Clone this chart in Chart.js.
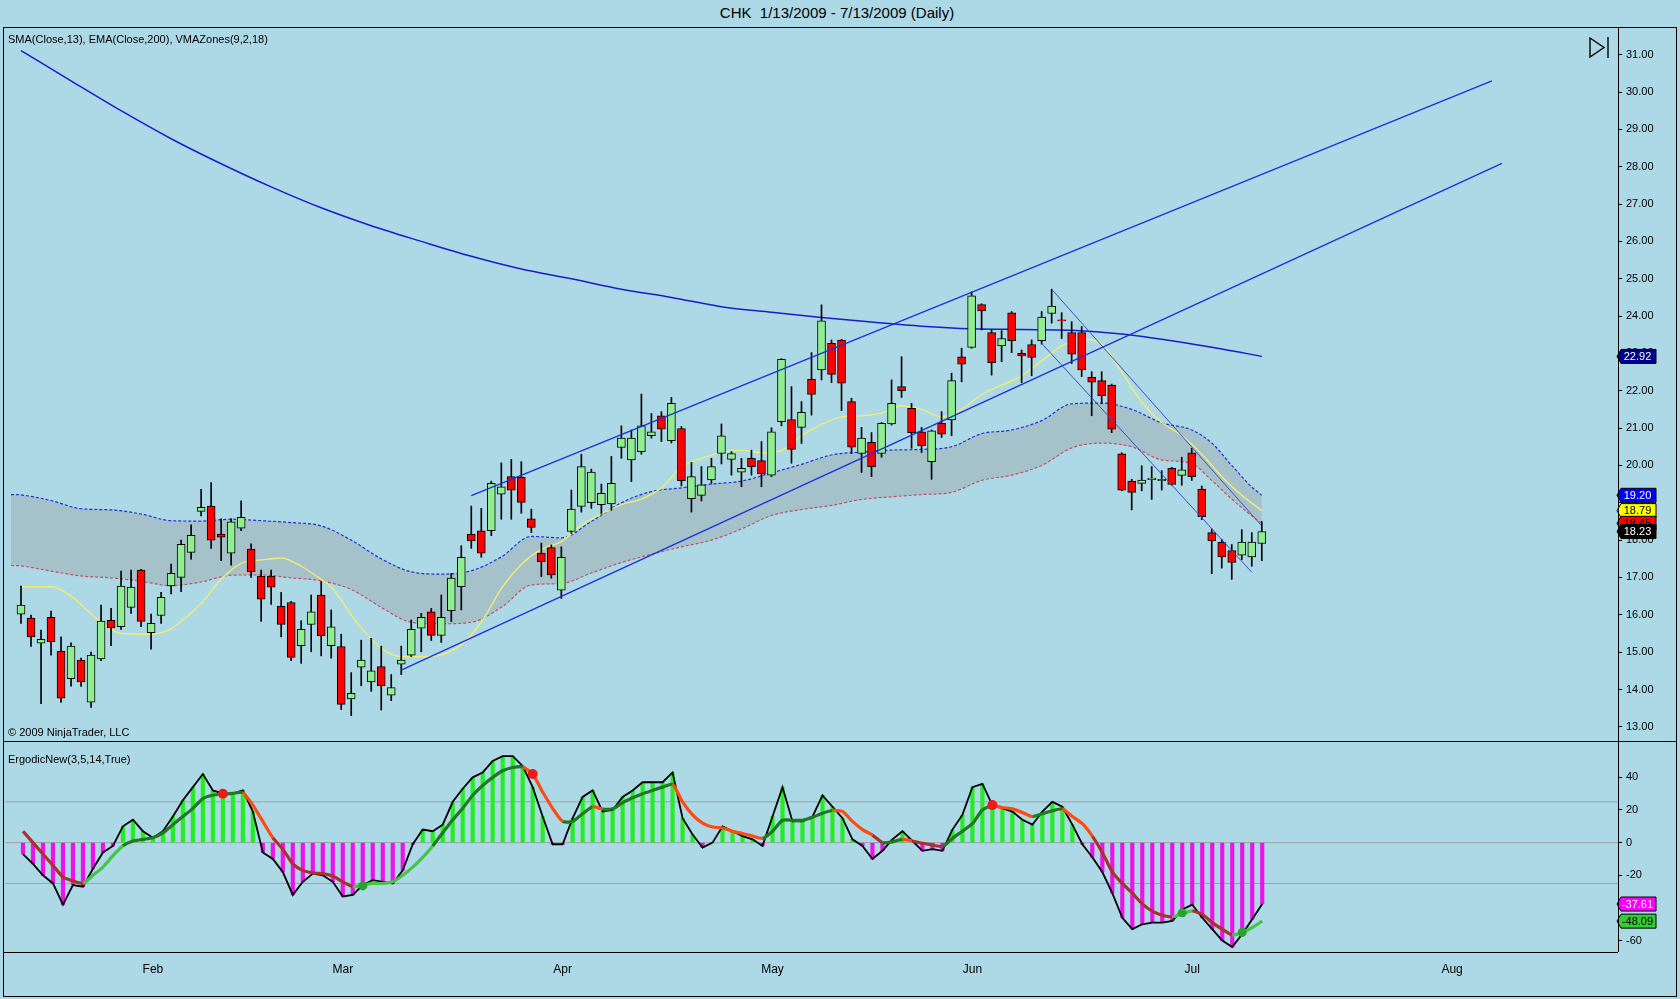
<!DOCTYPE html>
<html>
<head>
<meta charset="utf-8">
<title>CHK Daily</title>
<script src="https://cdn.jsdelivr.net/npm/chart.js@4.4.1/dist/chart.umd.min.js"></script>
<style>
  html, body { margin: 0; padding: 0; width: 1680px; height: 999px; overflow: hidden;
    background: #ADD8E6; font-family: "Liberation Sans", Arial, sans-serif; color: #000; }
  .abs { position: absolute; }
  .line { position: absolute; background: #000; pointer-events: none; }
  #title { left: 0; width: 1674px; top: 4px; text-align: center; font-size: 15px; }
  .lbl { font-size: 11px; left: 8px; white-space: nowrap; }
</style>
</head>
<body>
<div id="title" class="abs">CHK&nbsp; 1/13/2009 - 7/13/2009 (Daily)</div>

<div class="abs" style="left:0;top:27px;width:1680px;height:714px;">
  <canvas id="priceChart" width="1680" height="714"></canvas>
</div>
<div class="abs" style="left:0;top:741px;width:1680px;height:258px;">
  <canvas id="ergChart" width="1680" height="258"></canvas>
</div>

<div class="abs lbl" style="top:33px;">SMA(Close,13), EMA(Close,200), VMAZones(9,2,18)</div>
<div class="abs lbl" style="top:726px;">© 2009 NinjaTrader, LLC</div>
<div class="abs lbl" style="top:753px;">ErgodicNew(3,5,14,True)</div>

<div class="abs" style="left:3px;top:27px;width:1674px;height:970px;border:1px solid #000;box-sizing:border-box;pointer-events:none;"></div>
<div class="line" style="left:3px;top:741px;width:1674px;height:1px;"></div>
<div class="line" style="left:1618px;top:27px;width:1px;height:925px;"></div>
<div class="line" style="left:3px;top:952px;width:1615px;height:1px;"></div>

<script>
// ─── DATA (bar index 0 = 1/13/2009, one bar per trading day) ─────────
const opens = [
  16.02, 15.91, 15.24, 15.93, 15.03, 14.29, 14.79, 13.66, 14.82, 15.85,
  15.68, 16.20, 17.20, 15.52, 15.98, 16.77, 17.00, 17.67, 18.77, 18.91,
  18.16, 17.65, 18.32, 17.76, 17.04, 17.04, 16.23, 16.33, 15.17, 15.74,
  16.53, 15.17, 15.15, 13.75, 14.60, 14.20, 14.61, 13.85, 14.68, 14.92,
  15.64, 16.08, 15.45, 16.11, 16.75, 18.16, 18.25, 18.25, 19.23, 19.70,
  19.68, 18.57, 17.65, 17.80, 16.66, 18.23, 18.90, 19.00, 18.95, 18.97,
  20.48, 20.15, 20.37, 20.80, 21.33, 20.66, 20.99, 19.11, 19.20, 19.61,
  20.32, 20.16, 19.82, 20.19, 20.13, 19.74, 21.17, 21.23, 21.02, 22.31,
  22.56, 23.27, 23.36, 21.71, 20.32, 20.62, 20.32, 21.11, 22.11, 21.53,
  20.90, 20.10, 21.13, 21.22, 22.91, 23.16, 24.31, 23.56, 23.20, 24.09,
  23.00, 23.24, 23.34, 24.07, 23.90, 23.56, 23.56, 22.36, 22.27, 22.15,
  20.31, 19.58, 19.52, 19.62, 19.59, 19.92, 19.73, 20.34, 19.37, 18.20,
  17.94, 17.72, 17.60, 17.55, 17.91
];
const highs = [
  16.77, 15.99, 15.59, 16.10, 15.41, 15.25, 14.84, 15.00, 16.26, 16.17,
  17.17, 17.20, 17.22, 16.02, 16.60, 17.36, 18.00, 18.41, 19.36, 19.54,
  18.57, 18.57, 19.05, 17.90, 17.20, 17.20, 16.60, 16.36, 15.84, 16.53,
  16.89, 16.13, 15.48, 14.45, 15.32, 15.37, 15.16, 14.40, 15.16, 15.86,
  16.04, 16.17, 16.53, 17.11, 17.85, 18.91, 18.85, 19.58, 20.07, 20.16,
  20.10, 18.83, 17.92, 17.87, 17.82, 19.34, 20.30, 19.90, 19.50, 20.24,
  21.06, 20.95, 21.91, 21.39, 21.44, 21.82, 21.04, 20.08, 19.97, 20.19,
  21.11, 20.37, 20.19, 20.41, 20.64, 21.01, 22.86, 22.11, 21.71, 23.02,
  24.30, 23.36, 23.38, 21.80, 21.02, 20.88, 21.15, 22.29, 22.91, 21.66,
  21.02, 20.95, 21.44, 22.47, 23.14, 24.65, 24.33, 23.63, 23.61, 24.12,
  23.09, 23.36, 24.12, 24.72, 24.09, 23.85, 23.72, 22.51, 22.51, 22.18,
  20.34, 19.63, 19.99, 19.97, 19.86, 19.95, 20.22, 20.46, 19.45, 18.30,
  18.02, 17.88, 18.28, 18.20, 18.50
];
const lows = [
  15.77, 15.15, 13.62, 14.92, 13.65, 14.09, 14.08, 13.52, 14.77, 15.17,
  15.61, 16.04, 15.68, 15.08, 15.77, 16.56, 16.62, 17.49, 18.65, 17.78,
  17.45, 17.33, 18.25, 17.00, 15.82, 16.28, 15.41, 14.77, 14.70, 15.01,
  14.90, 14.84, 13.46, 13.30, 14.10, 13.95, 13.45, 13.70, 14.40, 14.88,
  15.01, 15.31, 15.26, 15.82, 16.13, 17.78, 17.54, 18.12, 18.56, 18.56,
  18.72, 18.20, 17.02, 16.98, 16.44, 18.18, 18.75, 18.85, 18.70, 18.80,
  20.19, 19.57, 20.30, 20.73, 20.64, 20.60, 19.45, 18.75, 19.05, 19.52,
  20.04, 19.74, 19.43, 19.74, 19.43, 19.70, 21.06, 20.06, 20.59, 21.35,
  22.29, 22.22, 21.47, 20.32, 19.81, 19.70, 20.22, 21.08, 21.82, 20.46,
  20.34, 19.63, 20.75, 20.80, 22.24, 23.14, 23.63, 22.42, 22.78, 23.02,
  22.22, 22.40, 23.25, 23.81, 23.40, 22.73, 22.38, 21.33, 21.65, 20.88,
  19.32, 18.81, 19.32, 19.09, 19.34, 19.47, 19.47, 19.60, 18.55, 17.10,
  17.25, 16.95, 17.48, 17.30, 17.45
];
const closes = [
  16.26, 15.41, 15.34, 15.28, 13.77, 15.16, 14.20, 14.92, 15.83, 15.65,
  16.77, 16.74, 15.82, 15.77, 16.47, 17.11, 17.89, 18.13, 18.88, 18.00,
  18.08, 18.49, 18.61, 17.15, 16.42, 16.74, 15.74, 14.86, 15.61, 16.08,
  15.44, 15.68, 13.60, 13.90, 14.79, 14.50, 14.10, 14.05, 14.79, 15.61,
  15.93, 15.45, 15.93, 16.98, 17.54, 17.98, 17.65, 19.52, 19.43, 19.34,
  19.01, 18.34, 17.42, 17.07, 17.54, 18.83, 19.97, 19.82, 19.25, 19.52,
  20.73, 20.73, 21.06, 20.90, 20.97, 21.66, 19.59, 19.70, 19.48, 19.97,
  20.79, 20.32, 19.92, 19.97, 19.77, 20.90, 22.84, 20.43, 21.42, 21.90,
  23.87, 22.44, 22.20, 20.49, 20.73, 19.97, 21.13, 21.66, 22.00, 20.88,
  20.53, 20.93, 20.84, 22.27, 22.71, 24.54, 24.14, 22.75, 23.40, 23.34,
  22.93, 22.89, 23.97, 24.27, 23.87, 22.98, 22.56, 22.23, 21.87, 20.97,
  19.34, 19.28, 19.61, 19.66, 19.63, 19.49, 19.88, 19.70, 18.63, 17.98,
  17.55, 17.40, 17.95, 17.95, 18.23
];

// indicator lines as [bar index, value] pairs
const emaPts = [
  [0, 31.11], [5, 30.30], [10, 29.50], [15, 28.75], [20, 28.08], [25, 27.46],
  [30, 26.90], [35, 26.42], [40, 26.00], [45, 25.60], [50, 25.26], [55, 25.00],
  [60, 24.72], [65, 24.50], [70, 24.25], [75, 24.10], [80, 23.96], [85, 23.84],
  [90, 23.73], [95, 23.66], [100, 23.64], [105, 23.62], [110, 23.52], [115, 23.34],
  [120, 23.12], [124, 22.92]
];
const smaPts = [
  [0, 16.75], [3, 16.75], [5, 16.50], [8, 15.80], [10, 15.50], [13, 15.48], [15, 15.62],
  [16, 15.82], [18, 16.30], [20, 16.95], [22, 17.38], [24, 17.47], [26, 17.52], [28, 17.30],
  [30, 16.95], [31, 16.75], [33, 16.00], [34, 15.65], [36, 15.10], [38, 14.88], [40, 14.88],
  [42, 14.93], [44, 15.20], [46, 15.80], [48, 16.70], [50, 17.35], [52, 17.75], [54, 17.96],
  [56, 18.40], [58, 18.70], [60, 18.95], [62, 19.10], [64, 19.40], [66, 19.95], [68, 20.19],
  [70, 20.35], [72, 20.41], [74, 20.34], [76, 20.40], [78, 20.80], [80, 21.10], [82, 21.30],
  [84, 21.33], [86, 21.40], [88, 21.60], [90, 21.50], [92, 21.30], [94, 21.50], [96, 21.90],
  [98, 22.15], [100, 22.40], [102, 22.80], [104, 23.20], [106, 23.38], [108, 23.25],
  [110, 22.50], [112, 21.70], [114, 21.15], [116, 20.80], [118, 20.30], [120, 19.70],
  [122, 19.20], [124, 18.79]
];
const bandIdx = [-1, 0, 3, 6, 9, 12, 15, 18, 21, 24, 27, 30, 33, 36, 39, 42, 45, 48, 51, 54,
  57, 60, 63, 66, 69, 72, 75, 78, 81, 84, 87, 90, 93, 96, 99, 102, 105, 108, 111, 114,
  117, 119, 121, 123, 124];
const bandUpper = [19.22, 19.21, 19.06, 18.84, 18.81, 18.70, 18.52, 18.51, 18.56, 18.52, 18.47,
  18.38, 18.00, 17.50, 17.15, 17.09, 17.18, 17.55, 18.10, 18.06, 18.50, 19.00, 19.30,
  19.40, 19.50, 19.58, 19.80, 20.03, 20.28, 20.36, 20.41, 20.43, 20.50, 20.85, 20.95,
  21.20, 21.65, 21.67, 21.50, 21.14, 20.95, 20.60, 20.00, 19.42, 19.20];
const bandLower = [17.32, 17.31, 17.17, 17.04, 16.99, 16.90, 16.78, 16.88, 17.06, 17.07, 16.99,
  16.91, 16.68, 16.20, 15.80, 15.76, 15.80, 16.20, 16.80, 16.84, 17.12, 17.40, 17.62,
  17.82, 18.00, 18.30, 18.66, 18.82, 18.93, 19.09, 19.16, 19.22, 19.28, 19.60, 19.74,
  20.00, 20.47, 20.60, 20.50, 20.15, 20.05, 19.60, 19.10, 18.65, 18.45];

// hand-drawn trend lines: [startIndex, startPrice, endIndex, endPrice]
const channelLines = [[45.0, 19.19, 147.0, 30.30], [38.0, 14.52, 148.0, 28.09]];
const downLines = [[103.0, 24.72, 123.9, 18.41], [102.0, 23.27, 123.0, 17.14]];

// ErgodicNew(3,5,14,True)
const ergodic = [
  -7, -13, -20, -25, -38, -26, -27, -16, -6, -2,
  10, 14, 7, 3, 7, 16, 26, 34, 42, 32,
  30, 30, 32, 19, -6, -10, -18, -32, -24, -19,
  -20, -24, -33, -32, -26, -23, -24, -25, -17, -1,
  8, 7, 11, 25, 33, 40, 43, 50, 53, 53,
  47, 34, 16, -1, -1, 15, 28, 32, 19, 20,
  28, 32, 37, 37, 37, 43, 15, 5, -3, 0,
  10, 7, 4, 2, -2, 16, 34, 13, 13, 16,
  29, 22, 15, 2, -2, -10, -5, 2, 7, 1,
  -5, -4, -5, 8, 17, 34, 36, 23, 21, 19,
  14, 11, 19, 25, 22, 11, -1, -9, -18, -31,
  -46, -53, -50, -49, -49, -48, -41, -38, -46, -53,
  -60, -64, -56, -47, -37.61
];
const signal = [
  7, 0, -7, -14, -21, -23.5, -25, -20, -15, -8,
  -2, 1, 2, 3, 6, 11, 16, 21, 27, 29,
  29.7, 30.2, 30.7, 23, 13, 3, -4, -13, -17, -18.5,
  -19, -20.5, -24, -27, -26, -25, -25, -24, -20, -15,
  -9, -2, 6, 14, 21, 29, 35, 40, 44, 46,
  46.4, 42, 31, 21, 13, 13, 17.7, 22, 20.5, 20.7,
  24.5, 27.5, 30, 32, 34, 35.7, 25, 17, 12, 9.6,
  9, 7, 5.6, 4, 2.6, 7, 13.7, 13.7, 13.7, 15.5,
  18, 19.7, 19.1, 13, 8, 4.6, 0, 0.5, 2, 1,
  -0.4, -1.5, -2.4, 2.6, 7, 11.6, 20, 22.7, 21.5, 20.7,
  18.5, 16, 17.7, 19.5, 20.7, 16, 11.6, 4, -6, -18,
  -25, -31, -37.5, -42, -44.5, -45.5, -43.5, -41.8, -44, -49,
  -53, -56.5, -55, -52, -48.09
];
const redDots = [[20, 30], [51, 42], [97, 23]];
const greenDots = [[34, -26.5], [116, -43], [122, -55]];
const ergLevels = [25, 0, -25];

// axis ticks
const priceTicks = [13, 14, 15, 16, 17, 18, 19, 20, 21, 22, 23, 24, 25, 26, 27, 28, 29, 30, 31];
const ergTicks = [40, 20, 0, -20, -40, -60];
const monthIdx = [13, 32, 54, 75, 95, 117, 143];
const monthNames = ['Feb', 'Mar', 'Apr', 'May', 'Jun', 'Jul', 'Aug'];

// ─── SHARED SETTINGS ────────────────────────────────────────────────
const FONT = '"Liberation Sans", Arial, sans-serif';
const X_MIN = -1.8, X_MAX = 159.6;
const AXIS_W = 62;
const last = (a) => a[a.length - 1];

// keep the plot area flush with the panel edges (no label padding)
function fitRightAxis(s) {
  s.width = AXIS_W;
  s.paddingTop = 0;
  s.paddingBottom = 0;
  s.paddingLeft = 0;
  s.paddingRight = 0;
}

function valueBox(ctx, xLeft, y, text, bg, fg) {
  const x0 = xLeft + 3, x1 = xLeft + 38, h = 14;
  ctx.save();
  ctx.beginPath();
  ctx.moveTo(x0 - 4, y);
  ctx.lineTo(x0, y - h / 2);
  ctx.lineTo(x1, y - h / 2);
  ctx.lineTo(x1, y + h / 2);
  ctx.lineTo(x0, y + h / 2);
  ctx.closePath();
  ctx.fillStyle = bg;
  ctx.fill();
  ctx.strokeStyle = '#000';
  ctx.lineWidth = 1;
  ctx.stroke();
  ctx.fillStyle = fg;
  ctx.font = '11px ' + FONT;
  ctx.textAlign = 'center';
  ctx.textBaseline = 'middle';
  ctx.fillText(text, (x0 + x1) / 2 - 1, y + 0.5);
  ctx.restore();
}

const pts = (arr) => arr.map(([x, y]) => ({ x, y }));
const segLine = (s, color, width, order) => ({
  type: 'line',
  data: [{ x: s[0], y: s[1] }, { x: s[2], y: s[3] }],
  borderColor: color, borderWidth: width, pointRadius: 0, order,
});

// ─── PRICE PANEL ────────────────────────────────────────────────────
const bodies = opens.map((o, i) => ({ x: i, y: [o, closes[i]] }));
const wicks = lows.map((l, i) => ({ x: i, y: [l, highs[i]] }));
const bodyColors = opens.map((o, i) => (closes[i] >= o ? '#90EE90' : '#FF0000'));

new Chart(document.getElementById('priceChart'), {
  type: 'bar',
  data: {
    datasets: [
      {
        type: 'line', label: 'VMA upper',
        data: bandIdx.map((x, i) => ({ x, y: bandUpper[i] })),
        borderColor: '#1f2fe0', borderWidth: 1.2, borderDash: [3, 2],
        pointRadius: 0, cubicInterpolationMode: 'monotone',
        fill: '+1', backgroundColor: 'rgba(150,150,150,0.33)', order: 6,
      },
      {
        type: 'line', label: 'VMA lower',
        data: bandIdx.map((x, i) => ({ x, y: bandLower[i] })),
        borderColor: '#d2405e', borderWidth: 1.2, borderDash: [3, 2],
        pointRadius: 0, cubicInterpolationMode: 'monotone', fill: false, order: 7,
      },
      {
        type: 'line', label: 'EMA200', data: pts(emaPts),
        borderColor: '#1c1cc8', borderWidth: 1.5, pointRadius: 0,
        cubicInterpolationMode: 'monotone', order: 5,
      },
      {
        type: 'line', label: 'SMA13', data: pts(smaPts),
        borderColor: '#eeee70', borderWidth: 1.4, pointRadius: 0,
        cubicInterpolationMode: 'monotone', order: 4,
      },
      {
        label: 'wicks', data: wicks, backgroundColor: '#000', borderWidth: 0,
        barThickness: 1, grouped: false, order: 3,
      },
      {
        label: 'bodies', data: bodies, backgroundColor: bodyColors,
        borderColor: '#000', borderWidth: 1, borderSkipped: false,
        barThickness: 8, grouped: false, order: 2,
      },
      ...channelLines.map((s) => segLine(s, '#1f2fdc', 1.3, 1)),
      ...downLines.map((s) => segLine(s, '#3d4fc0', 1, 1)),
    ],
  },
  options: {
    responsive: false,
    animation: false,
    layout: { padding: { left: 3, right: 0, top: 0, bottom: 0 } },
    plugins: { legend: { display: false }, tooltip: { enabled: false } },
    scales: {
      x: { type: 'linear', min: X_MIN, max: X_MAX, offset: false, display: false },
      y: {
        position: 'right', min: 12.62, max: 31.742,
        afterFit: fitRightAxis,
        afterBuildTicks: (s) => { s.ticks = priceTicks.map((v) => ({ value: v })); },
        grid: { drawOnChartArea: false, drawTicks: true, tickLength: 4, color: '#000' },
        border: { display: false },
        ticks: { font: { family: FONT, size: 11 }, color: '#000', padding: 4,
          autoSkip: false, callback: (v) => Number(v).toFixed(2) },
      },
    },
  },
  plugins: [{
    id: 'priceMarkers',
    afterDraw(chart) {
      const { ctx, chartArea } = chart;
      const y = chart.scales.y;
      const xr = chartArea.right;
      valueBox(ctx, xr, y.getPixelForValue(last(emaPts)[1]), last(emaPts)[1].toFixed(2), '#00008B', '#fff');
      valueBox(ctx, xr, y.getPixelForValue(last(bandUpper)), last(bandUpper).toFixed(2), '#0000FF', '#fff');
      valueBox(ctx, xr, y.getPixelForValue(last(smaPts)[1]), last(smaPts)[1].toFixed(2), '#FFFF00', '#000');
      valueBox(ctx, xr, y.getPixelForValue(last(bandLower)), last(bandLower).toFixed(2), '#FF0000', '#000');
      valueBox(ctx, xr, y.getPixelForValue(last(closes)), last(closes).toFixed(2), '#000', '#fff');
      // "scroll to end" button
      ctx.save();
      ctx.strokeStyle = '#000';
      ctx.lineWidth = 1.4;
      ctx.beginPath();
      ctx.moveTo(1590, 11); ctx.lineTo(1590, 30); ctx.lineTo(1604, 20.5); ctx.closePath();
      ctx.stroke();
      ctx.beginPath();
      ctx.moveTo(1608, 10); ctx.lineTo(1608, 31);
      ctx.stroke();
      ctx.restore();
    },
  }],
});

// ─── ERGODIC PANEL ──────────────────────────────────────────────────
const histColors = ergodic.map((v) => (v >= 0 ? '#22EE22' : '#EE11EE'));
const signalColor = (c) => {
  const up = c.p1.parsed.y >= c.p0.parsed.y;
  const pos = c.p1.parsed.y > 0;
  if (up) return pos ? '#1d7a1d' : '#46c446';
  return pos ? '#ff4a12' : '#ad3030';
};

new Chart(document.getElementById('ergChart'), {
  type: 'bar',
  data: {
    datasets: [
      ...ergLevels.map((v) => ({
        type: 'line', data: [{ x: X_MIN, y: v }, { x: X_MAX, y: v }],
        borderColor: '#98a4a8', borderWidth: 1, pointRadius: 0, order: 9,
      })),
      {
        label: 'histogram', data: ergodic.map((v, i) => ({ x: i, y: v })),
        backgroundColor: histColors, borderWidth: 0, barThickness: 3.5, grouped: false, order: 8,
      },
      {
        type: 'line', label: 'ergodic', data: ergodic.map((v, i) => ({ x: i, y: v })),
        borderColor: '#000', borderWidth: 1.8, pointRadius: 0, tension: 0, order: 7,
      },
      {
        type: 'line', label: 'signal', data: signal.map((v, i) => ({ x: i, y: v })),
        borderWidth: 3.2, pointRadius: 0, tension: 0.2, borderColor: '#1d7a1d',
        segment: { borderColor: signalColor }, order: 6,
      },
      {
        type: 'line', label: 'down turns', data: pts(redDots), showLine: false,
        pointRadius: 5, pointBackgroundColor: '#ee1a1a', pointBorderWidth: 0, order: 5,
      },
      {
        type: 'line', label: 'up turns', data: pts(greenDots), showLine: false,
        pointRadius: 4.5, pointBackgroundColor: '#28a428', pointBorderWidth: 0, order: 5,
      },
    ],
  },
  options: {
    responsive: false,
    animation: false,
    layout: { padding: { left: 3, right: 0, top: 0, bottom: 0 } },
    plugins: { legend: { display: false }, tooltip: { enabled: false } },
    scales: {
      x: {
        type: 'linear', min: X_MIN, max: X_MAX, offset: false,
        afterFit: (s) => { s.height = 47; s.paddingLeft = 0; s.paddingRight = 0; },
        afterBuildTicks: (s) => { s.ticks = monthIdx.map((v) => ({ value: v })); },
        grid: { display: false, drawTicks: false },
        border: { display: false },
        ticks: { font: { family: FONT, size: 12 }, color: '#000', padding: 10,
          autoSkip: false, maxRotation: 0,
          callback: (v, i) => monthNames[i] },
      },
      y: {
        position: 'right', min: -67.0, max: 59.2,
        afterFit: fitRightAxis,
        afterBuildTicks: (s) => { s.ticks = ergTicks.map((v) => ({ value: v })); },
        grid: { drawOnChartArea: false, drawTicks: true, tickLength: 4, color: '#000' },
        border: { display: false },
        ticks: { font: { family: FONT, size: 11 }, color: '#000', padding: 4, autoSkip: false },
      },
    },
  },
  plugins: [{
    id: 'ergMarkers',
    afterDraw(chart) {
      const { ctx, chartArea } = chart;
      const y = chart.scales.y;
      valueBox(ctx, chartArea.right, y.getPixelForValue(last(ergodic)), last(ergodic).toFixed(2), '#FF00FF', '#fff');
      valueBox(ctx, chartArea.right, y.getPixelForValue(last(signal)), last(signal).toFixed(2), '#33CC33', '#000');
    },
  }],
});
</script>
</body>
</html>
